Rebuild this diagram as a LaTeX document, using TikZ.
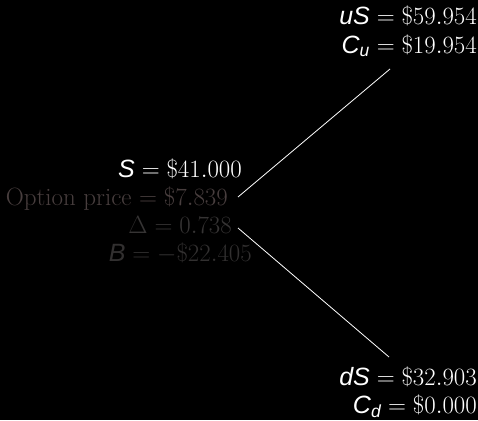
\documentclass[tikz,border=0pt]{standalone}
\usepackage{amsmath}
\usepackage{fontspec}
\usepackage{tikz}
\usetikzlibrary{positioning}
\newfontfamily\hvfont{Liberation Sans}
\newcommand{\iv}[1]{\text{\hvfont\itshape #1}}
\definecolor{pricegray}{RGB}{72,62,62}
\definecolor{deltagray}{RGB}{54,52,52}
\definecolor{bondgray}{RGB}{50,48,48}

\begin{document}
\begin{tikzpicture}[
  x=1pt, y=-1pt,
  font=\fontsize{25}{29}\selectfont,
  lbl/.style={inner sep=0pt, anchor=base east, text=white},
  branch/.style={draw=white, line width=0.8pt}
]
\fill[black] (0,0) rectangle (478,420);
\useasboundingbox (0,0) rectangle (478,420);

% root of the tree
\node[lbl] (spot) at (242,177) {$\iv{S} = \$41.000$};
\node[lbl, text=pricegray] (price) at (228,205) {Option price $= \$7.839$};
\node[lbl, text=deltagray] (delta) at (232,233) {$\Delta = 0.738$};
\node[lbl, text=bondgray] (bond) at (252,261) {$\iv{B} = -\$22.405$};

% up state
\node[lbl] (upS) at (477,25) {$\iv{uS} = \$59.954$};
\node[lbl] (upC) at (477,53) {$\iv{C}_{\iv{u}} = \$19.954$};

% down state
\node[lbl] (downS) at (477,385) {$\iv{dS} = \$32.903$};
\node[lbl] (downC) at (477,413) {$\iv{C}_{\iv{d}} = \$0.000$};

\coordinate (upstart) at (238,197);
\coordinate (upend) at (390,69);
\coordinate (downstart) at (238,228);
\coordinate (downend) at (389,357);

\draw[branch] (upstart) -- (upend);
\draw[branch] (downstart) -- (downend);

\end{tikzpicture}
\end{document}
